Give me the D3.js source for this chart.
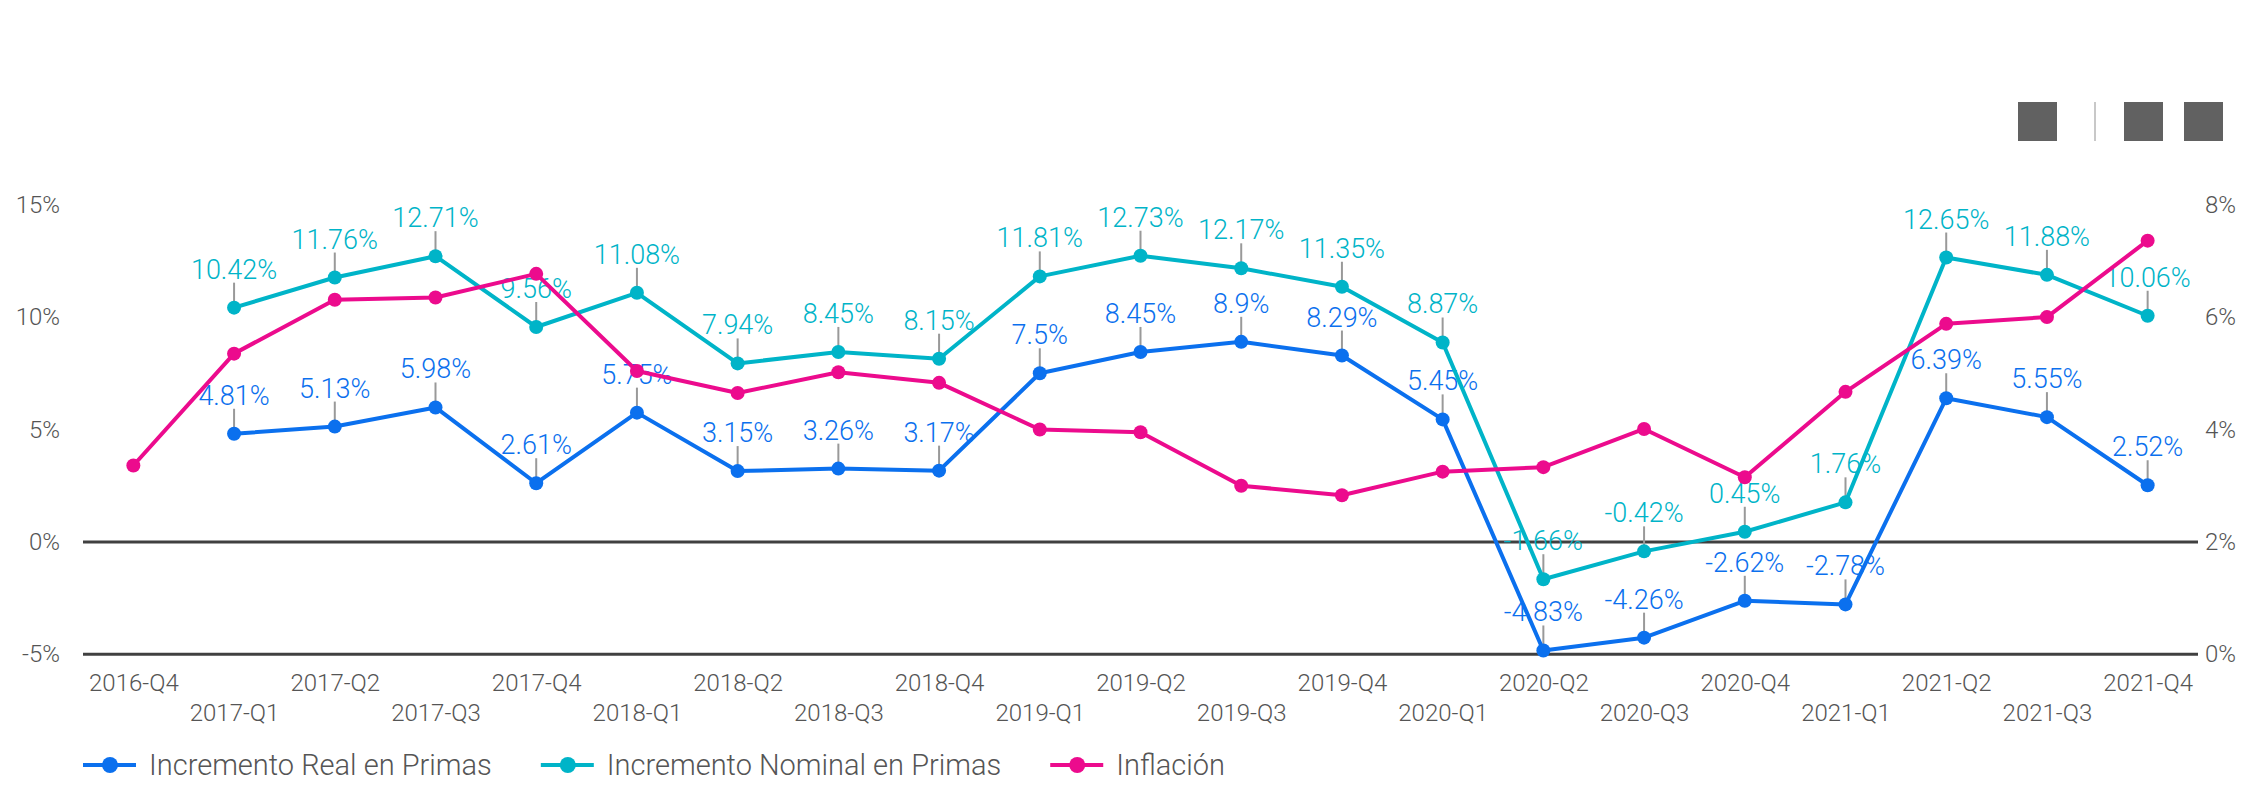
<!DOCTYPE html>
<html>
<head>
<meta charset="utf-8">
<script src="https://cdn.jsdelivr.net/npm/d3@7"></script>
<style>
  body { margin: 0; background: #fff; }
  svg text { font-family: Roboto, "Open Sans", sans-serif; font-weight: 300; }
</style>
</head>
<body>
<div id="chart"></div>
<script>
// quarters on the x axis
var quarters = ["2016-Q4", "2017-Q1", "2017-Q2", "2017-Q3", "2017-Q4", "2018-Q1", "2018-Q2",
  "2018-Q3", "2018-Q4", "2019-Q1", "2019-Q2", "2019-Q3", "2019-Q4", "2020-Q1", "2020-Q2",
  "2020-Q3", "2020-Q4", "2021-Q1", "2021-Q2", "2021-Q3", "2021-Q4"];

// real and nominal premium growth start at 2017-Q1
var realQuarters = quarters.slice(1);
var realPrimas = [4.81, 5.13, 5.98, 2.61, 5.75, 3.15, 3.26, 3.17, 7.5, 8.45, 8.9, 8.29, 5.45,
  -4.83, -4.26, -2.62, -2.78, 6.39, 5.55, 2.52];
var nominalPrimas = [10.42, 11.76, 12.71, 9.56, 11.08, 7.94, 8.45, 8.15, 11.81, 12.73, 12.17,
  11.35, 8.87, -1.66, -0.42, 0.45, 1.76, 12.65, 11.88, 10.06];
// inflation on the right axis
var inflacion = [3.36, 5.35, 6.31, 6.35, 6.77, 5.04, 4.65, 5.02, 4.83, 4.00, 3.95, 3.00, 2.83,
  3.25, 3.33, 4.01, 3.15, 4.67, 5.88, 6.00, 7.36];

var leftTicks = [-5, 0, 5, 10, 15];
var rightTicks = [0, 2, 4, 6, 8];
var gridTicks = [-5, 0];

var seriesNames = ["Incremento Real en Primas", "Incremento Nominal en Primas", "Inflación"];
var colors = ["#0B70EE", "#00B4C8", "#EC0B8D"];

var svgWidth = 2245, svgHeight = 788;
var margin = { top: 204.7, right: 47, bottom: 133.7, left: 83 };
var width = svgWidth - margin.left - margin.right;
var height = svgHeight - margin.top - margin.bottom;

var svg = d3.select("#chart").append("svg")
  .attr("width", svgWidth)
  .attr("height", svgHeight);

// header icons (top right)
var icons = svg.append("g");
[2018, 2124, 2184].forEach(function(x) {
  icons.append("rect").attr("x", x).attr("y", 102).attr("width", 39).attr("height", 39).attr("fill", "#616161");
});
icons.append("rect").attr("x", 2094).attr("y", 102).attr("width", 2).attr("height", 39).attr("fill", "#c8c8c8");

var chartGroup = svg.append("g")
  .attr("transform", `translate(${margin.left}, ${margin.top})`);

var x = d3.scalePoint().domain(quarters).range([0, width]).padding(0.5);
var yLeft = d3.scaleLinear().domain([-5, 15]).range([height, 0]);
var yRight = d3.scaleLinear().domain([0, 8]).range([height, 0]);

// dark reference lines at 0% and -5%
chartGroup.selectAll(".grid")
  .data(gridTicks)
  .enter()
  .append("line")
  .attr("x1", 0).attr("x2", width)
  .attr("y1", d => yLeft(d)).attr("y2", d => yLeft(d))
  .attr("stroke", "#404040")
  .attr("stroke-width", 3);

// axes
var leftAxis = d3.axisLeft(yLeft).tickValues(leftTicks).tickSize(0).tickPadding(23).tickFormat(d => d + "%");
var rightAxis = d3.axisRight(yRight).tickValues(rightTicks).tickSize(0).tickPadding(7).tickFormat(d => d + "%");
var bottomAxis = d3.axisBottom(x).tickSize(0);

var gl = chartGroup.append("g").call(leftAxis);
var gr = chartGroup.append("g").attr("transform", `translate(${width}, 0)`).call(rightAxis);
var gb = chartGroup.append("g").attr("transform", `translate(0, ${height})`).call(bottomAxis);

[gl, gr, gb].forEach(function(g) {
  g.select(".domain").remove();
  g.selectAll("text")
    .attr("fill", "#555")
    .style("font-size", "24px")
    .style("font-family", "Roboto, sans-serif")
    .style("font-weight", 300);
});
gb.selectAll("text")
  .attr("y", (d, i) => i % 2 === 0 ? 28 : 58)
  .attr("dy", "0.35em");

// data labels with leader lines
function addLabels(values, color) {
  var lab = chartGroup.append("g");
  lab.selectAll("line")
    .data(values)
    .enter()
    .append("line")
    .attr("x1", (d, i) => x(realQuarters[i]))
    .attr("x2", (d, i) => x(realQuarters[i]))
    .attr("y1", d => yLeft(d) - 5)
    .attr("y2", d => yLeft(d) - 25)
    .attr("stroke", "#999")
    .attr("stroke-width", 2);
  lab.selectAll("text")
    .data(values)
    .enter()
    .append("text")
    .attr("x", (d, i) => x(realQuarters[i]))
    .attr("y", d => yLeft(d) - 29)
    .attr("text-anchor", "middle")
    .attr("fill", color)
    .style("font-size", "27px")
    .text(d => d + "%");
}
addLabels(realPrimas, colors[0]);
addLabels(nominalPrimas, colors[1]);

// lines and markers
function addSeries(xs, values, yScale, color) {
  var g = chartGroup.append("g");
  var line = d3.line()
    .x((d, i) => x(xs[i]))
    .y(d => yScale(d));
  g.append("path")
    .datum(values)
    .attr("d", line)
    .attr("fill", "none")
    .attr("stroke", color)
    .attr("stroke-width", 4)
    .attr("stroke-linejoin", "round");
  g.selectAll("circle")
    .data(values)
    .enter()
    .append("circle")
    .attr("cx", (d, i) => x(xs[i]))
    .attr("cy", d => yScale(d))
    .attr("r", 7)
    .attr("fill", color);
}
addSeries(realQuarters, realPrimas, yLeft, colors[0]);
addSeries(realQuarters, nominalPrimas, yLeft, colors[1]);
addSeries(quarters, inflacion, yRight, colors[2]);

// legend
var legend = svg.append("g").attr("transform", "translate(83, 765)");
var lx = 0;
seriesNames.forEach(function(name, i) {
  var item = legend.append("g").attr("transform", `translate(${lx}, 0)`);
  item.append("line")
    .attr("x1", 0).attr("x2", 53).attr("y1", 0).attr("y2", 0)
    .attr("stroke", colors[i]).attr("stroke-width", 4);
  item.append("circle").attr("cx", 27).attr("cy", 0).attr("r", 8).attr("fill", colors[i]);
  var t = item.append("text")
    .attr("x", 66)
    .attr("y", 0)
    .attr("dy", "0.35em")
    .attr("fill", "#555")
    .style("font-size", "29px")
    .text(name);
  lx += 66 + t.node().getComputedTextLength() + 49;
});
</script>
</body>
</html>
